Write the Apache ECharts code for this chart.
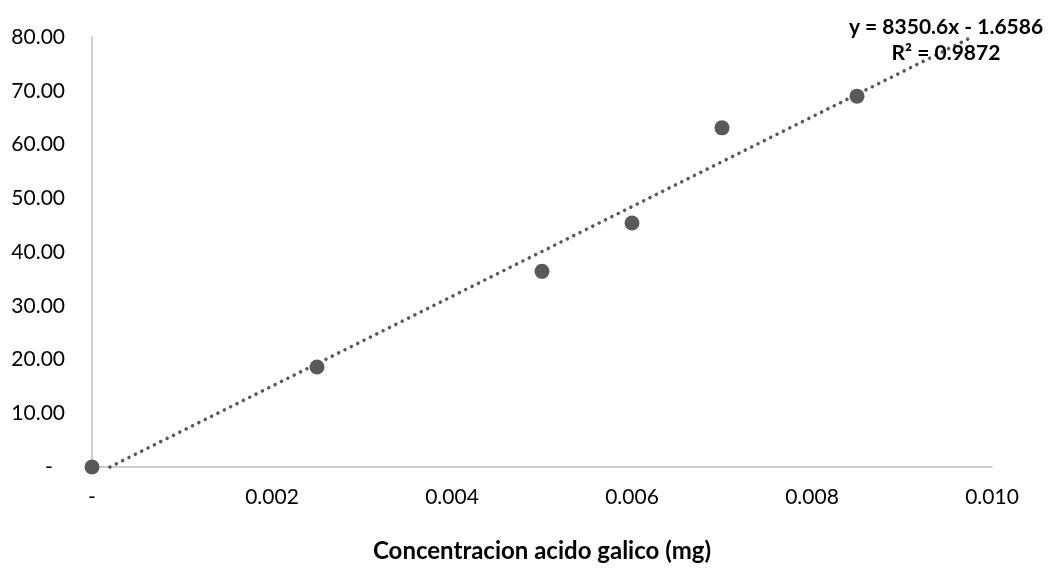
<!DOCTYPE html>
<html>
<head>
<meta charset="utf-8">
<script src="https://cdn.jsdelivr.net/npm/echarts@6/dist/echarts.min.js"></script>
<style>html,body{margin:0;padding:0;background:#fff;}#c{width:1051px;height:570px;}</style>
</head>
<body>
<div id="c"></div>
<script>
// Data
const concentration = [0, 0.0025, 0.005, 0.006, 0.007, 0.0085];
const absorbance = [0, 18.6, 36.4, 45.4, 63.1, 69.0];
const trendSlope = 8350.6;
const trendIntercept = -1.6586;
const equationLines = ['y = 8350.6x - 1.6586', 'R² = 0.9872'];
const xAxisTitle = 'Concentracion acido galico (mg)';
const xRange = [0, 0.010, 0.002];
const yRange = [0, 80, 10];

const FONT = 'Lato, "Open Sans", sans-serif';
const chart = echarts.init(document.getElementById('c'));

// Trendline clipped to visible y range [0, yMax]
const tx0 = (yRange[0] - trendIntercept) / trendSlope;
const tx1 = Math.min(xRange[1], (yRange[1] - trendIntercept) / trendSlope);
const trend = [[tx0, trendSlope * tx0 + trendIntercept], [tx1, trendSlope * tx1 + trendIntercept]];

chart.setOption({
  animation: false,
  backgroundColor: '#fff',
  grid: { left: 92, right: 59, top: 37, bottom: 103, containLabel: false },
  xAxis: {
    type: 'value', min: xRange[0], max: xRange[1], interval: xRange[2],
    axisLine: { show: true, onZero: false, lineStyle: { color: '#bfbfbf', width: 1.5 } },
    axisTick: { show: false },
    splitLine: { show: false },
    axisLabel: {
      color: '#000', fontFamily: FONT, fontSize: 21, margin: 20,
      formatter: v => v === 0 ? '-' : v.toFixed(3)
    },
    name: xAxisTitle, nameLocation: 'middle', nameGap: 72,
    nameTextStyle: { color: '#000', fontFamily: FONT, fontSize: 24, fontWeight: 'bold' }
  },
  yAxis: {
    type: 'value', min: yRange[0], max: yRange[1], interval: yRange[2],
    axisLine: { show: true, onZero: false, lineStyle: { color: '#bfbfbf', width: 1.5 } },
    axisTick: { show: false },
    splitLine: { show: false },
    axisLabel: {
      color: '#000', fontFamily: FONT, fontSize: 21, margin: 27,
      formatter: v => v === 0 ? '{z|-}' : v.toFixed(2),
      rich: { z: { color: '#000', fontFamily: FONT, fontSize: 21, width: 20, align: 'left' } }
    }
  },
  series: [
    {
      type: 'line', data: trend, showSymbol: false, symbol: 'none', clip: false,
      lineStyle: { color: '#595959', width: 3.5, type: [0.1, 7], cap: 'round' },
      z: 2, silent: true
    },
    {
      type: 'scatter', data: concentration.map((x, i) => [x, absorbance[i]]),
      symbol: 'circle', symbolSize: 15,
      itemStyle: { color: '#595959', opacity: 1 },
      z: 3
    }
  ],
  graphic: [
    {
      type: 'text', x: 946, y: 14,
      style: {
        text: equationLines.join('\n'), align: 'center', verticalAlign: 'top',
        fill: '#000', font: 'bold 21px ' + FONT, lineHeight: 26
      },
      z: 10
    }
  ]
});
</script>
</body>
</html>
